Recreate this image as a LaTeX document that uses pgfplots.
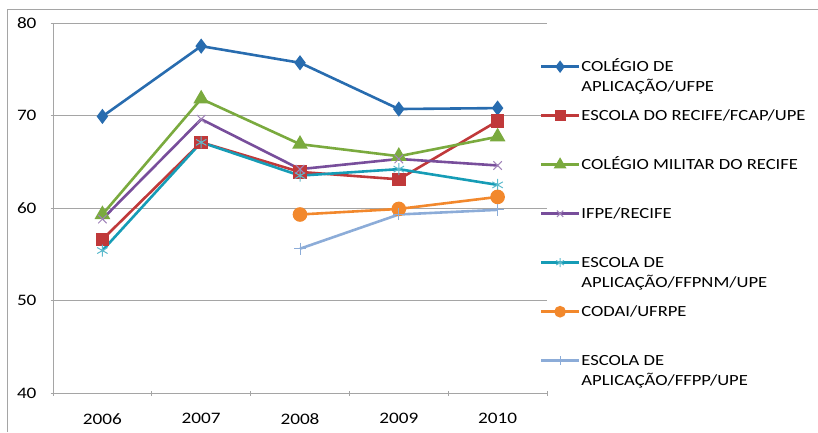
\documentclass[border=0pt]{standalone}
\usepackage{pgfplots}
\pgfplotsset{compat=1.18}
\usepackage{fontspec}
\setmainfont{Carlito}[FakeStretch=1.2]
\definecolor{cblue}{RGB}{40,108,175}
\definecolor{cred}{RGB}{192,57,58}
\definecolor{cgreen}{RGB}{122,170,62}
\definecolor{cpurple}{RGB}{120,78,155}
\definecolor{cteal}{RGB}{22,156,182}
\definecolor{corange}{RGB}{242,136,44}
\definecolor{clblue}{RGB}{140,172,216}
\definecolor{cgrid}{RGB}{165,165,165}
\newcommand{\leg}[1]{\parbox[t]{236pt}{\raggedright #1}}
\begin{document}
\begin{tikzpicture}[x=1pt,y=1pt]
\useasboundingbox (0,0) rectangle (818,432);
\draw[cgrid, line width=1pt] (7,0) -- (7,422) -- (818,422);
\begin{axis}[
  at={(53pt,39pt)}, anchor=south west,
  width=494pt, height=370pt, scale only axis,
  xmin=0.5, xmax=5.5, ymin=40, ymax=80,
  xtick={1,2,3,4,5}, xticklabels={2006,2007,2008,2009,2010},
  minor xtick={0.5,1.5,2.5,3.5,4.5,5.5},
  ytick={40,50,60,70,80}, minor ytick={40,50,60,70,80},
  major tick length=0pt, minor tick length=5pt, tick align=outside,
  tick style={cgrid, line width=0.8pt},
  ymajorgrids, grid style={cgrid, line width=0.8pt},
  axis lines=left, axis line style={-, cgrid, line width=0.8pt},
  /pgf/number format/assume math mode=true,
  ticklabel style={font=\fontsize{16}{18}\selectfont},
  xticklabel style={yshift=-17pt},
  yticklabel style={xshift=-13pt},
  clip=false,
  every axis plot/.append style={line width=2.6pt},
  legend image code/.code={\draw[yshift=5pt,mark repeat=2,mark phase=2,#1,every mark/.append style={scale=0.75}] plot coordinates {(0pt,0pt) (19pt,0pt) (38pt,0pt)};},
  legend style={at={(axis description cs:0.985,0.904)}, anchor=north west, draw=none, fill=none,
    font=\fontsize{15.5}{20}\selectfont, cells={anchor=base west}, row sep=0pt, inner sep=0pt,
    nodes={inner sep=1pt, text height=12pt, text depth=35pt}, column sep=0pt},
]
\addplot[cblue, mark=diamond*, mark size=5.5pt, mark options={solid}] coordinates {(1,69.9) (2,77.5) (3,75.7) (4,70.7) (5,70.8)};
\addlegendentry{\leg{COLÉGIO DE\\APLICAÇÃO/UFPE}}
\addplot[cred, mark=square*, mark size=5.5pt] coordinates {(1,56.6) (2,67.1) (3,63.9) (4,63.1) (5,69.4)};
\addlegendentry{\leg{ESCOLA DO RECIFE/FCAP/UPE}}
\addplot[cgreen, mark=triangle*, mark size=6.5pt] coordinates {(1,59.3) (2,71.8) (3,66.9) (4,65.6) (5,67.7)};
\addlegendentry{\leg{COLÉGIO MILITAR DO RECIFE}}
\addplot[cpurple, mark=x, mark size=6pt, mark options={line width=1pt, draw=cpurple!70}] coordinates {(1,58.8) (2,69.6) (3,64.2) (4,65.3) (5,64.6)};
\addlegendentry{\leg{IFPE/RECIFE}}
\addplot[cteal, mark=asterisk, mark size=6pt, mark options={line width=1pt, draw=cteal!70}] coordinates {(1,55.4) (2,67.1) (3,63.5) (4,64.2) (5,62.5)};
\addlegendentry{\leg{ESCOLA DE\\APLICAÇÃO/FFPNM/UPE}}
\addplot[corange, mark=*, mark size=6pt] coordinates {(3,59.3) (4,59.9) (5,61.2)};
\addlegendentry{\leg{CODAI/UFRPE}}
\addplot[clblue, mark=+, mark size=6pt, mark options={line width=1pt}] coordinates {(3,55.6) (4,59.3) (5,59.8)};
\addlegendentry{\leg{ESCOLA DE\\APLICAÇÃO/FFPP/UPE}}
\end{axis}
\end{tikzpicture}
\end{document}
